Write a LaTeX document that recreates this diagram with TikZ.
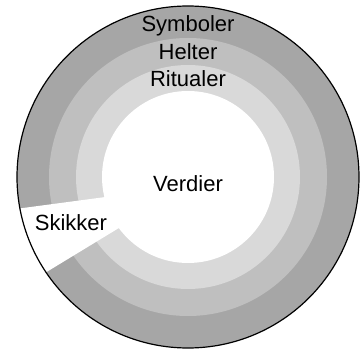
\documentclass[tikz,border=0pt]{standalone}
\usepackage{fontspec}
\setmainfont{Liberation Sans}
\definecolor{ringouter}{gray}{0.65}
\definecolor{ringmid}{gray}{0.75}
\definecolor{ringinner}{gray}{0.85}
\begin{document}
\begin{tikzpicture}[x=1pt,y=1pt,line join=round,line cap=round,font=\fontsize{22}{26}\selectfont]
            \useasboundingbox (-188,-173) rectangle (173,177);
            \foreach \r/\c in {171/ringouter,139/ringmid,112/ringinner,86/white}
            \fill[\c] (0,0) circle[radius=\r];
            \begin{scope}
            \clip (0,0) circle[radius=171];
            \fill[white,shift={(0,-9)}] (0,0) -- (187.6:200) -- (211.3:200) -- cycle;
            \end{scope}
            \draw[line width=1.2pt] (0,0) circle[radius=171];
            \node[anchor=base] (symboler) at (0,145) {Symboler};
            \node[anchor=base] (helter) at (0,117) {Helter};
            \node[anchor=base] (ritualer) at (0,90) {Ritualer};
            \node[anchor=base] (verdier) at (0,-15) {Verdier};
            \node[anchor=base] (skikker) at (-117,-53) {Skikker};
        \end{tikzpicture}
\end{document}
